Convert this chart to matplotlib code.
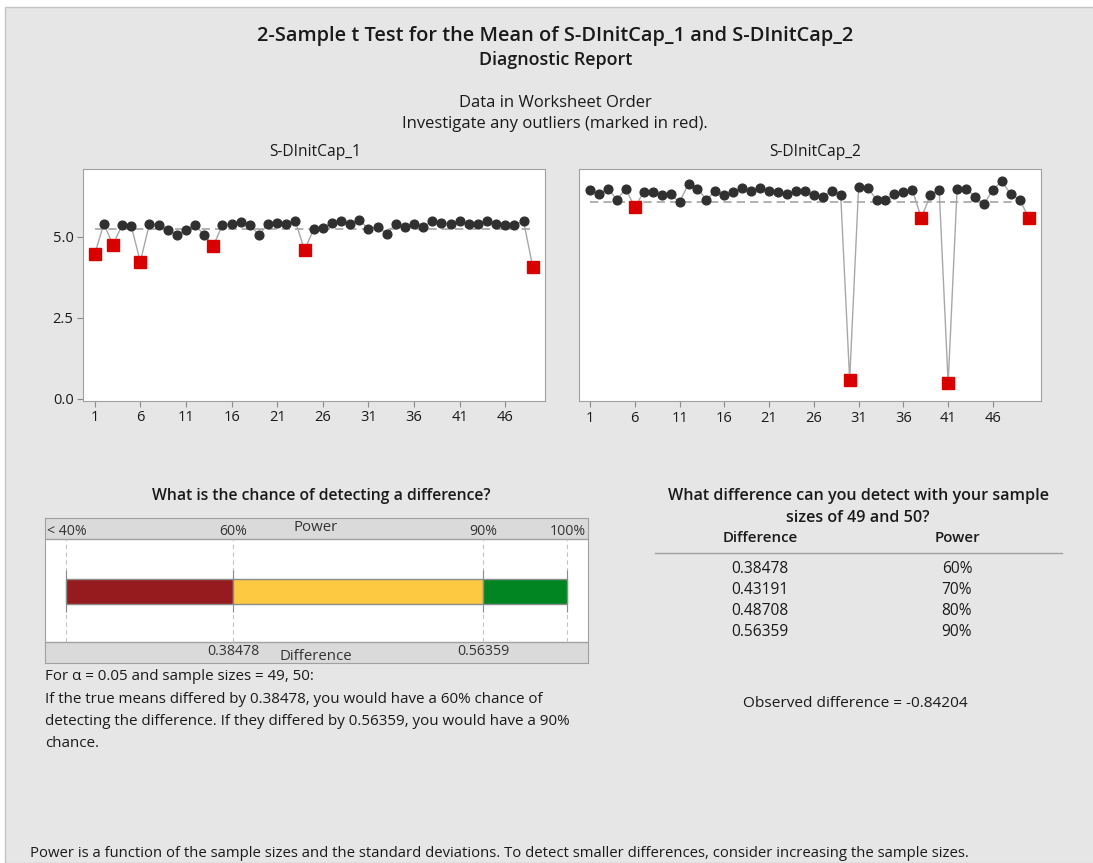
import numpy as np
import matplotlib
matplotlib.use("Agg")
import matplotlib.pyplot as plt
from matplotlib.patches import Rectangle
from matplotlib.lines import Line2D

plt.rcParams['font.family'] = ['Open Sans', 'DejaVu Sans']

# data
cap1 = [4.46, 5.40, 4.75, 5.36, 5.33, 4.23, 5.40, 5.36, 5.21, 5.05,
        5.21, 5.36, 5.05, 4.72, 5.36, 5.40, 5.44, 5.36, 5.05, 5.40,
        5.43, 5.40, 5.48, 4.58, 5.24, 5.28, 5.43, 5.48, 5.40, 5.52,
        5.24, 5.31, 5.09, 5.40, 5.31, 5.40, 5.31, 5.48, 5.43, 5.40,
        5.48, 5.40, 5.40, 5.48, 5.40, 5.36, 5.36, 5.48, 4.08]
cap1_outliers = [1, 3, 6, 14, 24, 49]

cap2 = [6.45, 6.31, 6.48, 6.15, 6.48, 5.91, 6.38, 6.38, 6.28, 6.32,
        6.06, 6.64, 6.48, 6.15, 6.41, 6.28, 6.38, 6.51, 6.41, 6.51,
        6.41, 6.38, 6.31, 6.41, 6.41, 6.28, 6.24, 6.41, 6.28, 0.60,
        6.54, 6.51, 6.15, 6.15, 6.31, 6.38, 6.45, 5.58, 6.28, 6.45,
        0.49, 6.48, 6.48, 6.24, 6.01, 6.45, 6.71, 6.31, 6.15, 5.58]
cap2_outliers = [6, 30, 38, 41, 50]

power_edges = [40, 60, 90, 100]
power_colors = ['#951b1f', '#fcc940', '#008522']
top_labels = ['< 40%', '60%', '90%', '100%']
diff_labels = {60: '0.38478', 90: '0.56359'}

table_diff = ['0.38478', '0.43191', '0.48708', '0.56359']
table_power = ['60%', '70%', '80%', '90%']
observed = '-0.84204'

W, H = 1093, 863
fig = plt.figure(figsize=(W / 100, H / 100), dpi=100)
fig.patch.set_facecolor('white')


def fx(px):
    return px / W


def fy(py):
    return 1 - py / H


def txt(px, py, s, **kw):
    kw.setdefault('ha', 'center')
    kw.setdefault('va', 'center')
    kw.setdefault('color', '#1a1a1a')
    fig.text(fx(px), fy(py), s, **kw)


fig.patches.append(Rectangle((fx(5), 0), 1, fy(7), transform=fig.transFigure,
                             facecolor='#e6e6e6', edgecolor='#c4c4c4', lw=1, zorder=-10))

txt(555, 36, '2-Sample t Test for the Mean of S-DInitCap_1 and S-DInitCap_2',
    fontsize=14.4, fontweight='semibold')
txt(556, 60, 'Diagnostic Report', fontsize=12.9, fontweight='semibold')
txt(555, 103, 'Data in Worksheet Order', fontsize=12)
txt(555, 124, 'Investigate any outliers (marked in red).', fontsize=12)


def run_chart(rect, vals, outl, xlim, title, tx, show_y):
    ax = fig.add_axes(rect)
    n = len(vals)
    idx = np.arange(1, n + 1)
    vals = np.array(vals)
    ax.plot(idx, vals, color='#a8a8a8', lw=1, zorder=2)
    ax.plot([1, n], [vals.mean()] * 2, color='#a6a6a6', lw=1.2,
            ls=(0, (5, 3)), zorder=1)
    normal = [i for i in idx if i not in outl]
    ax.plot(normal, vals[np.array(normal) - 1], 'o', color='#303030',
            ms=6.3, zorder=3)
    ax.plot(outl, vals[np.array(outl) - 1], 's', color='#d90000',
            ms=8.3, zorder=4)
    ax.set_xlim(*xlim)
    ax.set_ylim(-0.06, 7.08)
    ax.set_xticks(np.arange(1, 47, 5))
    ax.set_yticks([0, 2.5, 5.0])
    ax.set_yticklabels(['0.0', '2.5', '5.0'])
    ax.tick_params(direction='out', length=4, width=0.8, color='#8a8a8a',
                   labelsize=10.5, labelcolor='#1a1a1a', pad=3)
    if not show_y:
        ax.tick_params(axis='y', left=False, labelleft=False)
    for sp in ax.spines.values():
        sp.set_color('#a0a0a0')
    ax.set_facecolor('white')
    txt(tx, 152, title, fontsize=11.2)
    return ax


run_chart([fx(83.3), fy(400.7), fx(545) - fx(83.3), fy(169.3) - fy(400.7)],
          cap1, cap1_outliers, (-0.25, 50.35), 'S-DInitCap_1', 315, True)
run_chart([fx(579), fy(401.3), fx(1041) - fx(579), fy(169.3) - fy(401.3)],
          cap2, cap2_outliers, (-0.23, 51.37), 'S-DInitCap_2', 815, False)

# power bar
txt(321, 496, 'What is the chance of detecting a difference?', fontsize=11.3,
    fontweight='semibold')
pax = fig.add_axes([fx(44.5), fy(663.3), fx(587.5) - fx(44.5), fy(517.7) - fy(663.3)])
pax.set_xlim(37.4, 102.5)
pax.set_ylim(0, 1)
pax.set_xticks([])
pax.set_yticks([])
pax.set_facecolor('white')
for sp in pax.spines.values():
    sp.set_color('#a0a0a0')
sh = 21.6 / 145.6
pax.axhspan(1 - sh, 1, color='#dadada', lw=0)
pax.axhspan(0, sh, color='#dadada', lw=0)
pax.axhline(1 - sh, color='#a0a0a0', lw=1)
pax.axhline(sh, color='#a0a0a0', lw=1)
for p in power_edges:
    pax.vlines(p, sh, 1 - sh, colors='#c4c4c4', lw=0.8, linestyles=(0, (4, 3)))
    pax.vlines(p, 0.35, 0.64, colors='#8c8c8c', lw=0.8)
lefts = power_edges[:-1]
widths = np.diff(power_edges)
pax.barh(0.493, widths, left=lefts, height=0.172, color=power_colors,
         edgecolor='#8c8c8c', lw=1, align='center', zorder=3)

fs_bar = 10.2
pax.text(0.004, 0.905, top_labels[0], transform=pax.transAxes, ha='left',
         va='center', fontsize=fs_bar, color='#333333')
pax.text(0.997, 0.905, top_labels[-1], transform=pax.transAxes, ha='right',
         va='center', fontsize=fs_bar, color='#333333')
for p, lab in zip(power_edges[1:3], top_labels[1:3]):
    pax.text(p, 0.905, lab, ha='center', va='center', fontsize=fs_bar, color='#333333')
pax.text(0.5, 0.935, 'Power', transform=pax.transAxes, ha='center',
         va='center', fontsize=10.8, color='#333333')
for p, lab in diff_labels.items():
    pax.text(p, 0.08, lab, ha='center', va='center', fontsize=fs_bar, color='#333333')
pax.text(0.5, 0.05, 'Difference', transform=pax.transAxes, ha='center',
         va='center', fontsize=10.8, color='#333333')

body = ['For \u03b1 = 0.05 and sample sizes = 49, 50:',
        'If the true means differed by 0.38478, you would have a 60% chance of',
        'detecting the difference. If they differed by 0.56359, you would have a 90%',
        'chance.']
for k, line in enumerate(body):
    txt(45, 677 + 22 * k, line, ha='left', fontsize=10.9)

# table
txt(858, 496, 'What difference can you detect with your sample', fontsize=11.6,
    fontweight='semibold')
txt(858, 518, 'sizes of 49 and 50?', fontsize=11.6, fontweight='semibold')
txt(760, 538, 'Difference', fontsize=10.8, fontweight='semibold')
txt(957, 538, 'Power', fontsize=10.8, fontweight='semibold')
fig.add_artist(Line2D([fx(655), fx(1062)], [fy(553.3)] * 2, color='#a0a0a0', lw=1))
for k, (d, p) in enumerate(zip(table_diff, table_power)):
    txt(731, 569 + 21.1 * k, d, ha='left', fontsize=11.2)
    txt(957, 569 + 21.1 * k, p, fontsize=11.2)
txt(855, 703, 'Observed difference = ' + observed, fontsize=11.1)

txt(30, 853, 'Power is a function of the sample sizes and the standard deviations. '
    'To detect smaller differences, consider increasing the sample sizes.',
    ha='left', fontsize=10.7)

fig.savefig('out.png', dpi=100)
